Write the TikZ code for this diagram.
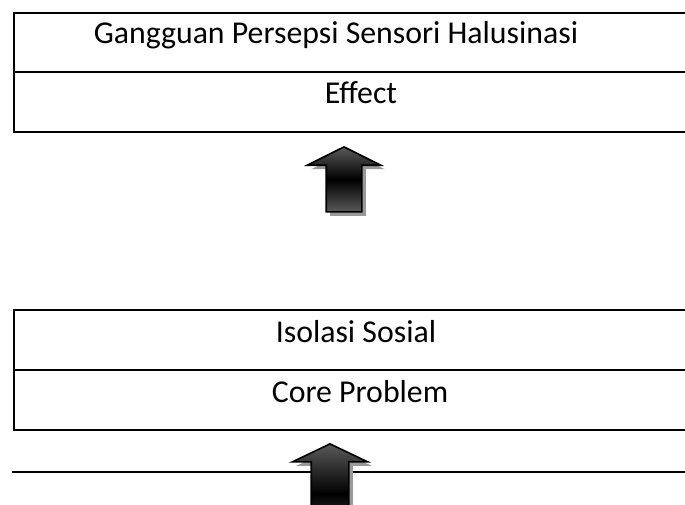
\documentclass[tikz,border=0pt]{standalone}
\usepackage{fontspec}
\setmainfont{Carlito}
\usetikzlibrary{shapes.arrows,shadows}

\tikzset{
  rule/.style={line width=1pt},
  celltext/.style={font=\fontsize{15.9}{18}\selectfont, inner sep=0pt, anchor=base},
  uparrow/.style={single arrow, shape border rotate=90, draw=black, line width=0.8pt,
    inner sep=0pt, single arrow head extend=9.5pt, anchor=tip,
    top color=black!65, bottom color=black!65, middle color=black,
    drop shadow={shadow xshift=2pt, shadow yshift=-2pt, fill=black!40, opacity=1}},
}
% invisible square that sets the shaft width
\newcommand{\shaftbox}[1]{\phantom{\rule{#1}{#1}}}

\begin{document}
\begin{tikzpicture}[x=0.5pt,y=-0.5pt]
  \useasboundingbox (0,0) rectangle (685,504);
  \clip (0,0) rectangle (685,504);

  % upper table
  \draw[rule] (14,13) rectangle (720,132);
  \draw[rule] (14,72) -- (720,72);
  \node[celltext] (gps) at (336,43) {Gangguan Persepsi Sensori Halusinasi};
  \node[celltext] (effect) at (361,103) {Effect};

  % lower table
  \draw[rule] (14,310) rectangle (720,430);
  \draw[rule] (14,370) -- (720,370);
  \node[celltext] (isos) at (356,342) {Isolasi Sosial};
  \node[celltext] (core) at (360,402) {Core Problem};
  \draw[rule] (12,472) -- (720,472);

  % block arrows, placed by their tips
  \node[uparrow, minimum height=32.5pt, single arrow tip angle=127] (arrA) at (344,146) {\shaftbox{17pt}};
  \node[uparrow, minimum height=50pt, single arrow tip angle=129] (arrB) at (330,443) {\shaftbox{18pt}};
\end{tikzpicture}
\end{document}
